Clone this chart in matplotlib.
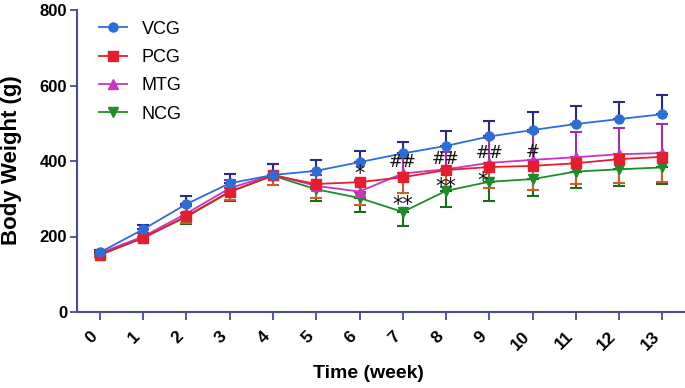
import matplotlib
matplotlib.use("Agg")
import matplotlib.pyplot as plt
import numpy as np

plt.rcParams['font.family'] = ['Liberation Sans', 'DejaVu Sans']

weeks = list(range(14))
tick_labels = [str(w) for w in weeks]

vcg = [158, 219, 286, 341, 363, 374, 397, 420, 440, 465, 482, 498, 511, 524]
vcg_sd = [5, 12, 20, 24, 28, 29, 30, 30, 40, 40, 48, 48, 45, 51]

pcg = [152, 196, 254, 319, 362, 339, 344, 357, 376, 384, 387, 394, 405, 411]
pcg_sd = [5, 8, 18, 22, 25, 38, 61, 43, 46, 56, 64, 55, 63, 67]

mtg = [156, 200, 261, 328, 364, 334, 319, 367, 378, 395, 403, 410, 418, 421]
mtg_sd = [6, 10, 20, 22, 28, 30, 30, 40, 45, 65, 75, 67, 69, 77]

ncg = [151, 197, 252, 318, 361, 325, 302, 265, 321, 345, 352, 372, 378, 383]
ncg_sd = [5, 10, 20, 25, 25, 30, 38, 37, 44, 50, 45, 44, 44, 45]

# annotations: (text, week, value)
annot_text = ['*', '##', '**', '##', '**', '##', '*', '#']
annot_week = [6, 7, 7, 8, 8, 9, 8.85, 10]
annot_val = [380, 397, 297, 405, 344, 420, 360, 425]

fig = plt.figure(figsize=(6.85, 3.88), dpi=100)
ax = fig.add_axes([77/685, 1-312/388, 607/685, 302/388])

series = [
    ('NCG', ncg, ncg_sd, 'below', '#1e8c2a', '#1e6a1e', 'v'),
    ('MTG', mtg, mtg_sd, 'above', '#c834c4', '#a030a8', '^'),
    ('PCG', pcg, pcg_sd, 'below', '#e41e2e', '#c8602a', 's'),
    ('VCG', vcg, vcg_sd, 'above', '#2a6fd8', '#2a2a8c', 'o'),
]
handles = {}
for name, vals, sd, side, col, ecol, mk in series:
    vals = np.array(vals, float)
    sd = np.array(sd, float)
    zeros = np.zeros_like(sd)
    yerr = [zeros, sd] if side == 'above' else [sd, zeros]
    ax.errorbar(weeks, vals, yerr=yerr, fmt='none', ecolor=ecol,
                elinewidth=1.5, capsize=4, capthick=1.5, zorder=2)
    h, = ax.plot(weeks, vals, color=col, lw=1.3, marker=mk, markersize=6.5,
                 markerfacecolor=col, markeredgecolor=col, zorder=3)
    handles[name] = h

for t, w, v in zip(annot_text, annot_week, annot_val):
    if '*' in t:
        ax.text(w, v - 14, t, ha='center', va='center', fontsize=15,
                family=['DejaVu Sans'], color='#111111', zorder=5)
    else:
        ax.text(w, v, t, ha='center', va='center', fontsize=12,
                family=['DejaVu Sans'], color='#111111', zorder=5)

order = ['VCG', 'PCG', 'MTG', 'NCG']
leg = ax.legend([handles[n] for n in order], order, loc='upper left',
                bbox_to_anchor=(0.037, 0.965), frameon=False, fontsize=13,
                handlelength=1.5, handletextpad=0.85, labelspacing=0.63,
                borderpad=0, borderaxespad=0)

ax.set_xlim(-0.53, 13.5)
ax.set_ylim(0, 800)
ax.set_yticks([0, 200, 400, 600, 800])
ax.set_xticks(weeks)
ax.set_xticklabels(tick_labels, rotation=45, ha='right', va='top',
                   fontsize=12.5, fontweight='bold')
for lab in ax.get_yticklabels():
    lab.set_fontsize(12)
    lab.set_fontweight('bold')

axcol = '#4a4a9a'
for s in ['top', 'right']:
    ax.spines[s].set_visible(False)
for s in ['left', 'bottom']:
    ax.spines[s].set_color(axcol)
    ax.spines[s].set_linewidth(1.5)
ax.tick_params(axis='x', colors=axcol, length=6, width=1.3, pad=6, labelcolor='black')
ax.tick_params(axis='y', colors=axcol, length=5, width=1.3, pad=2, labelcolor='black')

ax.set_xlabel('Time (week)', fontsize=14, fontweight='bold', va='center')
ax.set_ylabel('Body Weight (g)', fontsize=16, fontweight='bold', va='center')
ax.xaxis.set_label_coords((368-77)/607, -(374-312)/302)
ax.yaxis.set_label_coords(-(77-12)/607, (312-160)/302)

fig.savefig('out.png', dpi=100)
